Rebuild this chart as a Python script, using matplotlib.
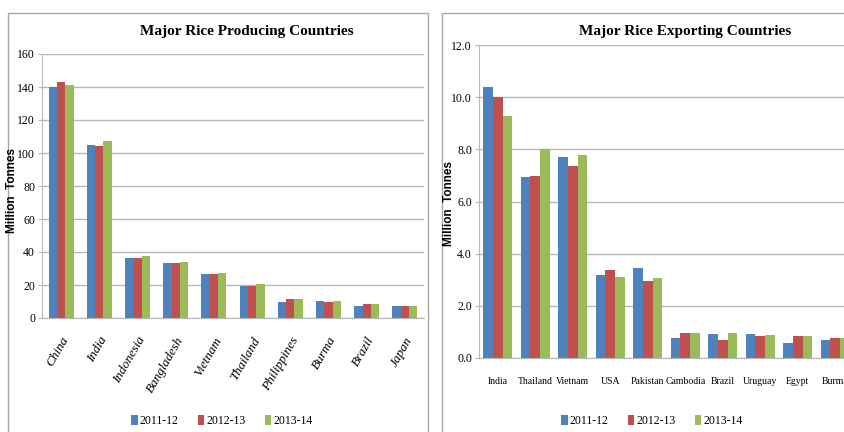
import matplotlib
matplotlib.use("Agg")
import matplotlib.pyplot as plt
import numpy as np
from matplotlib.patches import Patch, Rectangle

# data
prod_countries = ["China", "India", "Indonesia", "Bangladesh", "Vietnam",
                  "Thailand", "Philippines", "Burma", "Brazil", "Japan"]
prod_2011 = [140, 105, 36.2, 33.1, 26.9, 19.6, 9.9, 10.5, 7.3, 7.5]
prod_2012 = [143, 104, 36.2, 33.1, 26.9, 19.6, 11.3, 9.9, 8.3, 7.5]
prod_2013 = [141.5, 107.5, 37.4, 33.8, 27.5, 20.8, 11.3, 10.3, 8.3, 7.3]

exp_countries = ["India", "Thailand", "Vietnam", "USA", "Pakistan",
                 "Cambodia", "Brazil", "Uruguay", "Egypt", "Burma"]
exp_2011 = [10.4, 6.93, 7.7, 3.18, 3.44, 0.78, 0.93, 0.93, 0.56, 0.68]
exp_2012 = [10.0, 6.98, 7.37, 3.36, 2.95, 0.95, 0.68, 0.86, 0.86, 0.75]
exp_2013 = [9.28, 8.0, 7.77, 3.09, 3.05, 0.97, 0.97, 0.89, 0.86, 0.75]

years = ["2011-12", "2012-13", "2013-14"]
colors = ["#4F81BD", "#C0504D", "#9BBB59"]
grid_c = "#b8b8b8"
frame_c = "#a6a6a6"
serif = "Liberation Serif"

fig = plt.figure(figsize=(8.45, 4.32), dpi=100)

# outer chart frames
fig.patches.append(Rectangle((8 / 845, -0.05), 420 / 845, 1.02, transform=fig.transFigure,
                             facecolor="none", edgecolor=frame_c, lw=1.0))
fig.patches.append(Rectangle((442 / 845, -0.05), 0.6, 1.02, transform=fig.transFigure,
                             facecolor="none", edgecolor=frame_c, lw=1.0))


def style_axes(ax):
    for s in ["top", "right"]:
        ax.spines[s].set_visible(False)
    ax.spines["left"].set_color(grid_c)
    ax.spines["bottom"].set_color(grid_c)
    ax.yaxis.grid(True, color=grid_c, lw=1.0)
    ax.set_axisbelow(True)
    ax.tick_params(axis="y", length=3, color=grid_c, labelsize=8.5, pad=2)
    ax.tick_params(axis="x", length=0)
    for lab in ax.get_yticklabels():
        lab.set_fontfamily(serif)


# left: producing
ax1 = fig.add_axes([42 / 845, 1 - 318 / 432, 382 / 845, 264 / 432])
x = np.arange(len(prod_countries))
w = 0.218
for i, vals in enumerate([prod_2011, prod_2012, prod_2013]):
    ax1.bar(x + (i - 1) * w, vals, w, color=colors[i])
ax1.set_xlim(-0.5, len(prod_countries) - 0.5)
ax1.set_ylim(0, 160)
ax1.set_yticks(range(0, 161, 20))
style_axes(ax1)
ax1.set_xticks(x)
ax1.set_xticklabels(prod_countries, rotation=60, ha="right", va="top",
                    rotation_mode="anchor", fontfamily=serif, fontstyle="italic",
                    fontsize=9.5)
ax1.tick_params(axis="x", pad=12)

# right: exporting
ax2 = fig.add_axes([479 / 845, 1 - 358 / 432, 375 / 845, 313 / 432])
x2 = np.arange(len(exp_countries))
w2 = 0.26
for i, vals in enumerate([exp_2011, exp_2012, exp_2013]):
    ax2.bar(x2 + (i - 1) * w2, vals, w2, color=colors[i])
ax2.set_xlim(-0.5, len(exp_countries) - 0.5)
ax2.set_ylim(0, 12)
ax2.set_yticks(np.arange(0, 12.1, 2))
ax2.set_yticklabels([f"{v:.1f}" for v in np.arange(0, 12.1, 2)])
style_axes(ax2)
ax2.set_xticks(x2)
ax2.set_xticklabels(exp_countries, fontfamily=serif, fontsize=7)
ax2.tick_params(axis="x", pad=14)

# titles and axis labels
fig.text(247 / 845, 1 - 32 / 432, "Major Rice Producing Countries", ha="center", va="center",
         fontfamily=serif, fontweight="bold", fontsize=11)
fig.text(685 / 845, 1 - 32 / 432, "Major Rice Exporting Countries", ha="center", va="center",
         fontfamily=serif, fontweight="bold", fontsize=11)
fig.text(12.5 / 845, 1 - 190 / 432, "Million  Tonnes", rotation=90, ha="center", va="center",
         fontfamily="Liberation Sans", fontweight="bold", fontsize=8.5)
fig.text(449 / 845, 1 - 203 / 432, "Million  Tonnes", rotation=90, ha="center", va="center",
         fontfamily="Liberation Sans", fontweight="bold", fontsize=8.5)

# legends
handles = [Patch(facecolor=c, edgecolor="none", label=y) for c, y in zip(colors, years)]
for cx in (222 / 845, 652 / 845):
    fig.legend(handles=handles, loc="center", bbox_to_anchor=(cx, 1 - 421 / 432), ncol=3,
               frameon=False, handlelength=0.55, handleheight=0.9, handletextpad=0.2,
               columnspacing=1.6, prop={"family": serif, "size": 8.5})

fig.savefig("out.png", dpi=100)
